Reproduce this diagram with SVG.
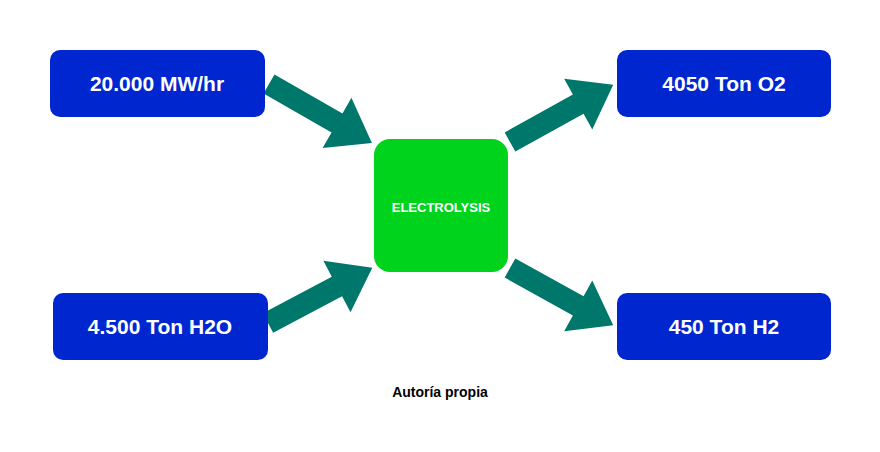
<svg xmlns="http://www.w3.org/2000/svg" width="880" height="452" viewBox="0 0 880 452">
<style>
.b{fill:#0026d0}
.t{fill:#fff;font-family:"Liberation Sans",Arial,sans-serif;font-weight:bold;font-size:21px;text-anchor:middle}
.a{fill:#00776b}
</style>
<defs><path id="ar" d="M0,-11 L78,-11 L78,-29 L118,0 L78,29 L78,11 L0,11 Z"/></defs>
<rect width="880" height="452" fill="#fff"/>
<g id="connectors">
<use href="#ar" class="a" transform="translate(269,84) rotate(29.8) scale(1.005,1)"/>
<use href="#ar" class="a" transform="translate(268,323) rotate(-27.9)"/>
<use href="#ar" class="a" transform="translate(510,142) rotate(-29)"/>
<use href="#ar" class="a" transform="translate(510,268) rotate(29)"/>
</g>
<g id="n1"><rect class="b" x="50" y="50" width="215" height="67" rx="10"/><text class="t" x="157" y="91">20.000 MW/hr</text></g>
<g id="n2"><rect class="b" x="53" y="293" width="215" height="67" rx="10"/><text class="t" x="160" y="334">4.500 Ton H2O</text></g>
<g id="n3"><rect class="b" x="617" y="50" width="214" height="67" rx="10"/><text class="t" x="724" y="91">4050 Ton O2</text></g>
<g id="n4"><rect class="b" x="617" y="293" width="214" height="67" rx="10"/><text class="t" x="724" y="334">450 Ton H2</text></g>
<g id="center"><rect x="374" y="139" width="134" height="133" rx="16" fill="#00d31c"/><text x="441" y="212" fill="#fff" font-family="Liberation Sans,Arial,sans-serif" font-weight="bold" font-size="13" text-anchor="middle">ELECTROLYSIS</text></g>
<text x="440" y="397" font-family="Liberation Sans,Arial,sans-serif" font-weight="bold" font-size="14" text-anchor="middle">Autoría propia</text>
</svg>
